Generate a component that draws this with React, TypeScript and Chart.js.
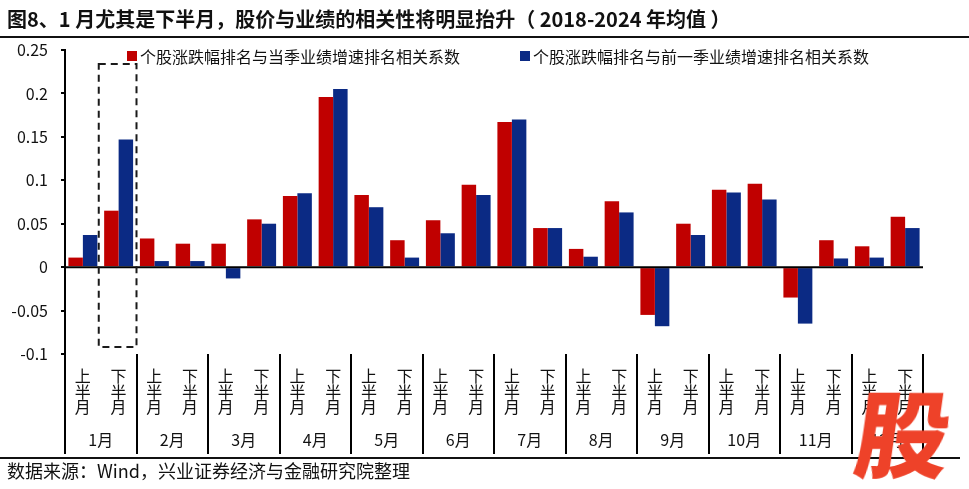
import React, { useEffect, useRef } from "react";
import { Chart, registerables } from "chart.js";

Chart.register(...registerables);

const months = ["1月", "2月", "3月", "4月", "5月", "6月", "7月", "8月", "9月", "10月", "11月", "12月"];
const halves = ["上半月", "下半月"];
const seriesNames = ["个股涨跌幅排名与当季业绩增速排名相关系数", "个股涨跌幅排名与前一季业绩增速排名相关系数"];
const currentQuarter = [0.011, 0.065, 0.033, 0.027, 0.027, 0.055, 0.082, 0.196, 0.083, 0.031, 0.054, 0.095, 0.167, 0.045, 0.021, 0.076, -0.055, 0.05, 0.089, 0.096, -0.035, 0.031, 0.024, 0.058];
const previousQuarter = [0.037, 0.147, 0.007, 0.007, -0.013, 0.05, 0.085, 0.205, 0.069, 0.011, 0.039, 0.083, 0.17, 0.045, 0.012, 0.063, -0.068, 0.037, 0.086, 0.078, -0.065, 0.01, 0.011, 0.045];
const yTicks = [0.25, 0.2, 0.15, 0.1, 0.05, 0, -0.05, -0.1];
const yTickLabels = ["0.25", "0.2", "0.15", "0.1", "0.05", "0", "-0.05", "-0.1"];
const highlightBox = { from: 0.5, to: 1.5, top: 0.234, bottom: -0.092 };

const RED = "#C00000";
const BLUE = "#0B2A84";
const FONT = "'Noto Sans CJK SC', 'Noto Sans', sans-serif";

const categories = months.flatMap((m) => halves.map((h) => m + h));

const decorPlugin = {
  id: "decor",
  afterDatasetsDraw(chart: any) {
    const { ctx, chartArea, scales } = chart;
    const x = scales.x;
    const y = scales.y;
    ctx.save();
    // zero line
    const y0 = y.getPixelForValue(0);
    ctx.strokeStyle = "#000";
    ctx.lineWidth = 2;
    ctx.beginPath();
    ctx.moveTo(chartArea.left, y0);
    ctx.lineTo(chartArea.right, y0);
    ctx.stroke();

    // dashed highlight box
    const bx1 = x.getPixelForValue(highlightBox.from) - 2;
    const bx2 = x.getPixelForValue(highlightBox.to);
    const by1 = y.getPixelForValue(highlightBox.top);
    const by2 = y.getPixelForValue(highlightBox.bottom);
    ctx.setLineDash([7, 5]);
    ctx.strokeStyle = "#1a1a1a";
    ctx.lineWidth = 2;
    ctx.strokeRect(bx1, by1, bx2 - bx1, by2 - by1);
    ctx.setLineDash([]);

    // month separators
    const sepTop = chartArea.bottom;
    const sepBottom = chartArea.bottom + 100;
    ctx.strokeStyle = "#000";
    ctx.lineWidth = 2;
    for (let m = 0; m <= months.length; m++) {
      const px = Math.round(x.getPixelForValue(m * 2 - 0.5));
      ctx.beginPath();
      ctx.moveTo(px, sepTop);
      ctx.lineTo(px, sepBottom);
      ctx.stroke();
    }

    // half-month labels (vertical)
    ctx.fillStyle = "#111";
    ctx.textAlign = "center";
    ctx.textBaseline = "middle";
    ctx.font = `16px ${FONT}`;
    categories.forEach((_, i) => {
      const h = halves[i % 2];
      const px = x.getPixelForValue(i);
      const chars = Array.from(h);
      chars.forEach((c, k) => {
        ctx.fillText(c, px, chartArea.bottom + 22 + k * 15.5);
      });
    });

    // month labels
    ctx.font = `16px ${FONT}`;
    months.forEach((m, i) => {
      const px = x.getPixelForValue(i * 2 + 0.5);
      ctx.fillText(m, px, chartArea.bottom + 86);
    });
    ctx.restore();
  },
};

function ChartCanvas() {
  const ref = useRef<HTMLCanvasElement | null>(null);
  useEffect(() => {
    if (!ref.current) return;
    const chart = new Chart(ref.current, {
      type: "bar",
      data: {
        labels: categories,
        datasets: [
          { label: seriesNames[0], data: currentQuarter, backgroundColor: RED, categoryPercentage: 0.81, barPercentage: 1 },
          { label: seriesNames[1], data: previousQuarter, backgroundColor: BLUE, categoryPercentage: 0.81, barPercentage: 1 },
        ],
      },
      options: {
        responsive: false,
        animation: false,
        devicePixelRatio: 1,
        layout: { padding: { left: 0, top: 50, right: 46, bottom: 135 } },
        plugins: { legend: { display: false }, tooltip: { enabled: false }, title: { display: false } },
        scales: {
          x: { display: false, offset: true },
          y: {
            min: -0.1,
            max: 0.25,
            afterBuildTicks: (scale: any) => {
              scale.ticks = yTicks.map((v) => ({ value: v }));
            },
            afterFit: (scale: any) => {
              scale.width = 65;
            },
            border: { display: true, color: "#000", width: 2 },
            grid: { drawOnChartArea: false, drawTicks: true, tickLength: 4, color: "#000", lineWidth: 2 },
            ticks: {
              padding: 13,
              color: "#111",
              font: { family: FONT, size: 16 },
              callback: (v: any) => {
                const idx = yTicks.findIndex((t) => Math.abs(t - Number(v)) < 1e-9);
                return idx >= 0 ? yTickLabels[idx] : "";
              },
            },
          },
        },
      },
      plugins: [decorPlugin],
    });
    return () => chart.destroy();
  }, []);
  return <canvas ref={ref} width={969} height={489} style={{ position: "absolute", left: 0, top: 0, width: 969, height: 489 }} />;
}

export default function App() {
  return (
    <div style={{ position: "fixed", left: 0, top: 0, width: 969, height: 489, background: "#fff", overflow: "hidden", fontFamily: FONT, color: "#111" }}>
      <ChartCanvas />
      <div style={{ position: "absolute", left: 7, top: 5, fontSize: 20, fontWeight: 700, whiteSpace: "nowrap", lineHeight: "27px", letterSpacing: 0 }}>
        图8、1 月尤其是下半月，股价与业绩的相关性将明显抬升（ 2018-2024 年均值 ）
      </div>
      <div style={{ position: "absolute", left: 0, top: 36, width: 969, height: 2, background: "#111" }} />
      <div style={{ position: "absolute", left: 127, top: 51, width: 10, height: 10, background: RED }} />
      <div style={{ position: "absolute", left: 140, top: 45, fontSize: 16, lineHeight: "22px", whiteSpace: "nowrap" }}>{seriesNames[0]}</div>
      <div style={{ position: "absolute", left: 520, top: 51, width: 10, height: 10, background: BLUE }} />
      <div style={{ position: "absolute", left: 533, top: 45, fontSize: 16, lineHeight: "22px", whiteSpace: "nowrap" }}>{seriesNames[1]}</div>
      <div style={{ position: "absolute", left: 0, top: 457, width: 960, height: 1.5, background: "#111" }} />
      <div style={{ position: "absolute", left: 7, top: 458, fontSize: 18, lineHeight: "25px", whiteSpace: "nowrap" }}>数据来源：Wind，兴业证券经济与金融研究院整理</div>
      <div style={{ position: "absolute", left: 857, top: 380, fontSize: 94, lineHeight: "100px", fontWeight: 900, color: "#EE4229", transform: "skewX(-8deg)", whiteSpace: "nowrap" }}>股</div>
    </div>
  );
}
